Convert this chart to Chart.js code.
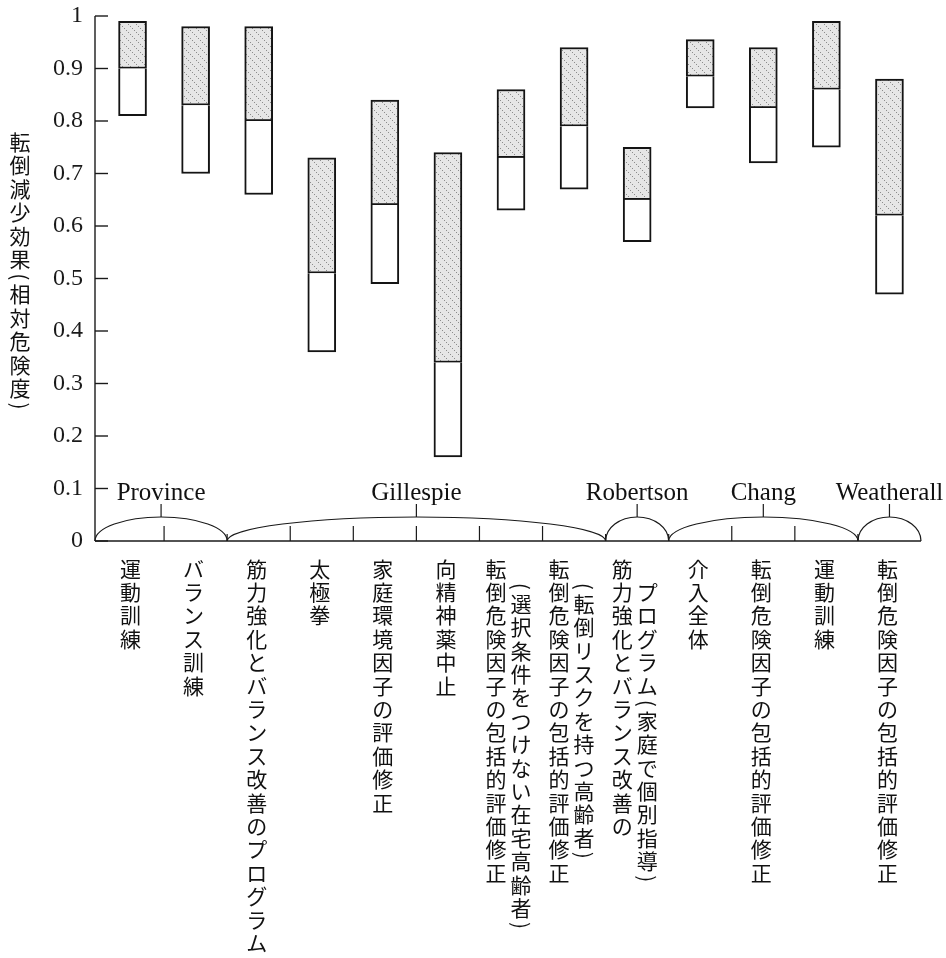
<!DOCTYPE html>
<html lang="ja">
<head>
<meta charset="utf-8">
<title>転倒減少効果（相対危険度）</title>
<script src="https://cdn.jsdelivr.net/npm/chart.js@4.4.1/dist/chart.umd.min.js"></script>
<style>
  html, body { margin: 0; padding: 0; background: #fff; }
  canvas { display: block; }
</style>
</head>
<body>
<canvas id="chart" width="946" height="958"></canvas>
<script>
// 介入の名前（縦書き、1要素 = 1列）
const categories = [
    ['運動訓練'],
    ['バランス訓練'],
    ['筋力強化とバランス改善のプログラム'],
    ['太極拳'],
    ['家庭環境因子の評価修正'],
    ['向精神薬中止'],
    ['転倒危険因子の包括的評価修正', '（選択条件をつけない在宅高齢者）'],
    ['転倒危険因子の包括的評価修正', '（転倒リスクを持つ高齢者）'],
    ['筋力強化とバランス改善の', 'プログラム（家庭で個別指導）'],
    ['介入全体'],
    ['転倒危険因子の包括的評価修正'],
    ['運動訓練'],
    ['転倒危険因子の包括的評価修正']
];

// 研究ごとのまとまり（最初と最後のカテゴリ番号）
const studies = ['Province', 'Gillespie', 'Robertson', 'Chang', 'Weatherall'];
const studyFirst = [0, 2, 8, 9, 12];
const studyLast = [1, 7, 8, 11, 12];

// 相対危険度：下限・点推定・上限
const lowerValues = [0.81, 0.70, 0.66, 0.36, 0.49, 0.16, 0.63, 0.67, 0.57, 0.825, 0.72, 0.75, 0.47];
const pointValues = [0.90, 0.83, 0.80, 0.51, 0.64, 0.34, 0.73, 0.79, 0.65, 0.885, 0.825, 0.86, 0.62];
const upperValues = [0.99, 0.98, 0.98, 0.73, 0.84, 0.74, 0.86, 0.94, 0.75, 0.955, 0.94, 0.99, 0.88];

const yTitle = '転倒減少効果（相対危険度）';

// 網点のパターン
function makeStipple() {
    const c = document.createElement('canvas');
    c.width = 24;
    c.height = 24;
    const g = c.getContext('2d');
    g.fillStyle = '#e6e6e6';
    g.fillRect(0, 0, 24, 24);
    g.fillStyle = '#8c8c8c';
    for (let yy = 0; yy < 24; yy++) {
        for (let xx = 0; xx < 24; xx++) {
            if (((xx * 37 + yy * 61 + xx * yy * 13) % 8) === 0) g.fillRect(xx, yy, 1, 1);
        }
    }
    return g.createPattern(c, 'repeat');
}

// 縦書きで1列描く
function drawVertical(ctx, text, x, top, pitch) {
    let y = top;
    for (const ch of text) {
        if (ch === '（' || ch === '）') {
            const h = pitch / 2;
            ctx.save();
            ctx.translate(x, y + h / 2);
            ctx.rotate(Math.PI / 2);
            ctx.fillText(ch === '（' ? '(' : ')', 0, 0);
            ctx.restore();
            y += h;
        } else {
            ctx.fillText(ch, x, y + pitch / 2);
            y += pitch;
        }
    }
}

function line(ctx, x1, y1, x2, y2) {
    ctx.beginPath();
    ctx.moveTo(x1, y1);
    ctx.lineTo(x2, y2);
    ctx.stroke();
}

const decor = {
    id: 'decor',
    afterDraw(chart) {
        const { ctx, chartArea: a, scales: { x, y } } = chart;
        const axisX = a.left - 6;
        const half = (x.getPixelForValue(1) - x.getPixelForValue(0)) / 2;
        const edge = i => (i === 0 ? axisX : x.getPixelForValue(i) - half);

        ctx.save();
        ctx.strokeStyle = '#1a1a1a';
        ctx.lineWidth = 1.4;

        // 軸
        line(ctx, axisX, a.top, axisX, a.bottom);
        line(ctx, axisX, a.bottom, a.right, a.bottom);

        // y目盛り（内向き）
        y.ticks.forEach(t => {
            const py = y.getPixelForValue(t.value);
            line(ctx, axisX, py, axisX + 13, py);
        });

        // カテゴリ境界の目盛り
        ctx.lineWidth = 1.2;
        for (let i = 1; i < categories.length; i++) {
            const isGroupEdge = studyFirst.includes(i);
            const bx = edge(i);
            line(ctx, bx, a.bottom, bx, a.bottom - (isGroupEdge ? 7 : 15));
        }

        // 研究ごとの弧と名前
        ctx.fillStyle = '#111';
        ctx.font = '25px "Liberation Serif", serif';
        ctx.textAlign = 'center';
        ctx.textBaseline = 'alphabetic';
        studies.forEach((name, k) => {
            const x1 = edge(studyFirst[k]);
            const x2 = x.getPixelForValue(studyLast[k]) + half;
            const cx = (x1 + x2) / 2;
            ctx.beginPath();
            ctx.ellipse(cx, a.bottom, (x2 - x1) / 2, 24, 0, Math.PI, 2 * Math.PI);
            ctx.stroke();
            line(ctx, cx, a.bottom - 24, cx, a.bottom - 37);
            ctx.fillText(name, cx, a.bottom - 41);
        });

        // カテゴリ名（縦書き）
        ctx.font = '21px "Noto Sans CJK JP", sans-serif';
        ctx.textBaseline = 'middle';
        const pitch = 23.4;
        categories.forEach((cols, i) => {
            const cx = x.getPixelForValue(i);
            const xs = cols.length === 1 ? [cx - 2] : [cx - 15, cx + 10];
            cols.forEach((col, j) => {
                drawVertical(ctx, col, xs[j], a.bottom + 16 + j * pitch, pitch);
            });
        });

        // y軸タイトル
        drawVertical(ctx, yTitle, 20, 130, 23.5);
        ctx.restore();
    }
};

const stipple = makeStipple();

new Chart(document.getElementById('chart'), {
    type: 'bar',
    data: {
        labels: categories.map(c => c.join('')),
        datasets: [
            {
                label: '下限〜点推定',
                data: lowerValues.map((v, i) => [v, pointValues[i]]),
                backgroundColor: '#ffffff',
                borderColor: '#141414',
                borderWidth: 2,
                borderSkipped: 'top',
                grouped: false,
                barThickness: 28
            },
            {
                label: '点推定〜上限',
                data: pointValues.map((v, i) => [v, upperValues[i]]),
                backgroundColor: stipple,
                borderColor: '#141414',
                borderWidth: 2,
                borderSkipped: false,
                grouped: false,
                barThickness: 28
            }
        ]
    },
    options: {
        responsive: false,
        animation: false,
        layout: { padding: { top: 16, right: 25, bottom: 417, left: 0 } },
        plugins: {
            legend: { display: false },
            tooltip: { enabled: false }
        },
        scales: {
            x: { display: false },
            y: {
                min: 0,
                max: 1,
                border: { display: false },
                grid: { display: false, drawTicks: false },
                ticks: {
                    stepSize: 0.1,
                    padding: 18,
                    color: '#1a1a1a',
                    font: { family: '"Liberation Serif", serif', size: 24 },
                    callback: v => String(Number(v.toFixed(1)))
                },
                afterFit(scale) {
                    scale.width = 101;
                    scale.paddingTop = 0;
                    scale.paddingBottom = 0;
                }
            }
        }
    },
    plugins: [decor]
});
</script>
</body>
</html>
